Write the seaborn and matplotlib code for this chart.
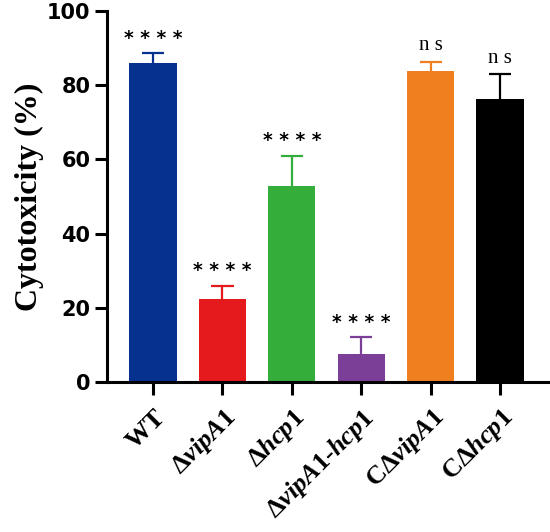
import numpy as np
import pandas as pd
import matplotlib
matplotlib.use("Agg")
import matplotlib.pyplot as plt
import seaborn as sns

# data
STRAINS = ["WT", "dvipA1", "dhcp1", "dvipA1-hcp1", "CdvipA1", "Cdhcp1"]
MEANS = [86.0, 22.5, 52.8, 7.5, 84.0, 76.2]
SD = [2.7, 3.4, 8.2, 4.6, 2.4, 6.8]
SIGNIF = ["* * * *", "* * * *", "* * * *", "* * * *", "n s", "n s"]
COLORS = ["#06318F", "#E41A1C", "#35AD3A", "#7C3F98", "#EF7F1F", "#000000"]
TICK_LABELS = [
    r"$\mathbf{WT}$",
    r"$\mathbf{\Delta}\mathit{vipA1}$",
    r"$\mathbf{\Delta}\mathit{hcp1}$",
    r"$\mathbf{\Delta}\mathit{vipA1}\text{-}\mathit{hcp1}$",
    r"$\mathbf{C}\mathit{\Delta vipA1}$",
    r"$\mathbf{C}\mathit{\Delta hcp1}$",
]

sns.set_theme(style="ticks")
plt.rcParams["mathtext.fontset"] = "custom"
plt.rcParams["mathtext.rm"] = "Liberation Serif:bold"
plt.rcParams["mathtext.bf"] = "Liberation Serif:bold"
plt.rcParams["mathtext.it"] = "Liberation Serif:bold:italic"

df = pd.DataFrame({"strain": STRAINS, "mean": MEANS, "sd": SD})

fig = plt.figure(figsize=(5.5, 5.32), dpi=100)
ax = fig.add_axes([0.195, 0.282, 0.805, 0.697])

sns.barplot(data=df, x="strain", y="mean", hue="strain", palette=COLORS,
            width=0.68, legend=False, ax=ax, errorbar=None, saturation=1,
            edgecolor="none")

# upper-only error bars (stem + top cap), same colour as the bar
cap = 0.16
for i, (m, s, c) in enumerate(zip(MEANS, SD, COLORS)):
    ax.vlines(i, m, m + s, color=c, linewidth=1.6, zorder=3)
    ax.hlines(m + s, i - cap, i + cap, color=c, linewidth=1.6, zorder=3)

# significance marks
for i, (m, s, t) in enumerate(zip(MEANS, SD, SIGNIF)):
    if t.startswith("*"):
        ax.text(i, m + s + 1.5, t, ha="center", va="bottom", fontsize=13.5,
                fontweight="bold", family="DejaVu Sans", color="black")
    else:
        ax.text(i, m + s + 1.8, t, ha="center", va="bottom", fontsize=15,
                family="Liberation Serif", color="black")

ax.set_ylim(0, 100)
ax.set_xlim(-0.66, 5.72)
ax.set_yticks([0, 20, 40, 60, 80, 100])
ax.set_yticklabels(["0", "20", "40", "60", "80", "100"], fontsize=15,
                   fontweight="bold", family="DejaVu Sans", color="black")
ax.set_xticks(range(len(STRAINS)))
ax.set_xticklabels(TICK_LABELS, rotation=45, ha="right", rotation_mode="anchor",
                   fontsize=19, color="black")
ax.set_xlabel("")
ax.set_ylabel("Cytotoxicity (%)", fontsize=23, fontweight="bold",
              family="Liberation Serif", labelpad=2, color="black")

for side in ["top", "right"]:
    ax.spines[side].set_visible(False)
for side in ["left", "bottom"]:
    ax.spines[side].set_linewidth(2.2)
    ax.spines[side].set_color("black")
ax.tick_params(axis="both", width=2.2, length=9, color="black", pad=3)
ax.tick_params(axis="x", pad=7)

fig.savefig("out.png", dpi=100)
